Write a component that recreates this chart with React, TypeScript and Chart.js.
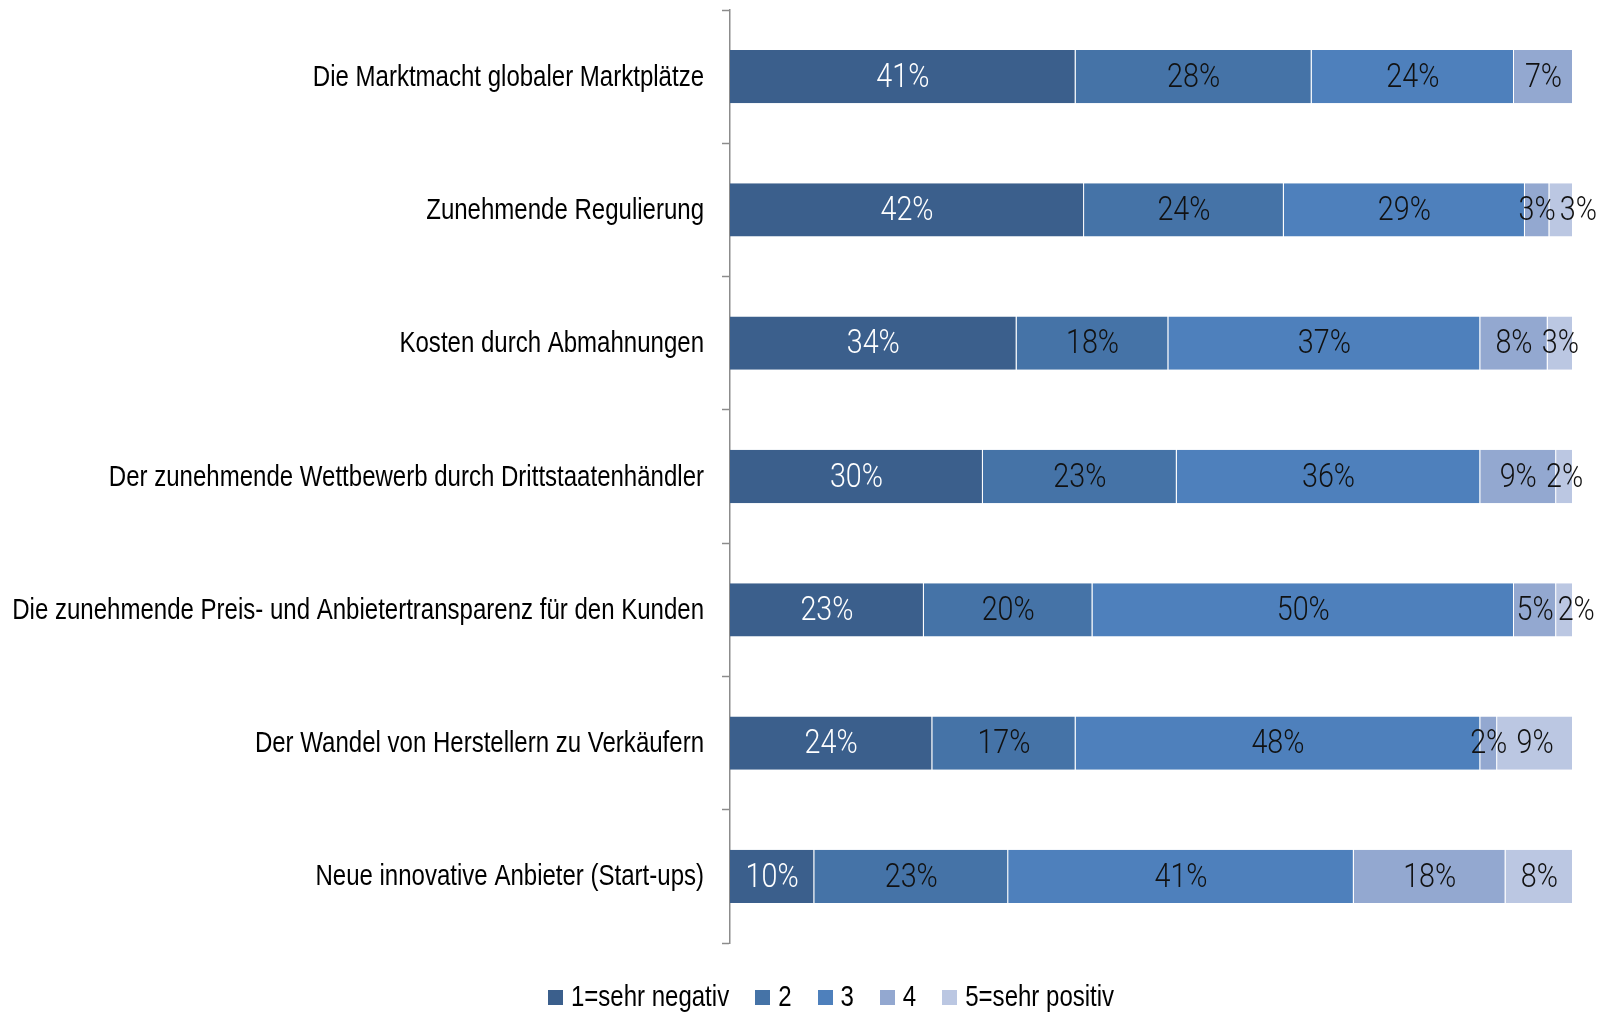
import React, { useEffect, useRef } from "react";
import { Chart, registerables } from "chart.js";

Chart.register(...registerables);

const SANS = "'Liberation Sans', Arial, sans-serif";
const LIGHT = "Roboto, 'Liberation Sans', sans-serif";

const categories = [
  "Die Marktmacht globaler Marktplätze",
  "Zunehmende Regulierung",
  "Kosten durch Abmahnungen",
  "Der zunehmende Wettbewerb durch Drittstaatenhändler",
  "Die zunehmende Preis- und Anbietertransparenz für den Kunden",
  "Der Wandel von Herstellern zu Verkäufern",
  "Neue innovative Anbieter (Start-ups)",
];

const seriesNames = ["1=sehr negativ", "2", "3", "4", "5=sehr positiv"];

const s1 = [41, 42, 34, 30, 23, 24, 10];
const s2 = [28, 23.7, 18, 23, 20, 17, 23];
const s3 = [24, 28.6, 37, 36, 50, 48, 41];
const s4 = [7, 2.9, 8, 9, 5, 2, 18];
const s5 = [0, 2.8, 3, 2, 2, 9, 8];

const seriesColors = ["#3B5F8C", "#4573A7", "#4E80BC", "#93A8D0", "#BBC7E2"];
const labelColors = ["#FFFFFF", "#111111", "#111111", "#111111", "#111111"];

// draw horizontally compressed text (narrow face emulation)
function narrowText(
  ctx: CanvasRenderingContext2D,
  text: string,
  x: number,
  y: number,
  align: "left" | "right" | "center",
  font: string,
  sx: number,
  color: string
) {
  ctx.save();
  ctx.font = font;
  ctx.textBaseline = "middle";
  ctx.textAlign = "left";
  ctx.fillStyle = color;
  const w = ctx.measureText(text).width * sx;
  const left = align === "left" ? x : align === "right" ? x - w : x - w / 2;
  ctx.translate(left, y);
  ctx.scale(sx, 1);
  ctx.fillText(text, 0, 0);
  ctx.restore();
  return w;
}

function narrowWidth(ctx: CanvasRenderingContext2D, text: string, font: string, sx: number) {
  ctx.save();
  ctx.font = font;
  const w = ctx.measureText(text).width * sx;
  ctx.restore();
  return w;
}

const CAT_FONT = `29.3px ${SANS}`;
const CAT_SX = 0.82;
const VAL_FONT = `300 33px ${LIGHT}`;
const VAL_SX = 0.87;

const textPlugin = {
  id: "narrowTexts",
  afterDatasetsDraw(chart: any) {
    const ctx: CanvasRenderingContext2D = chart.ctx;
    const n = chart.data.labels.length;
    for (let i = 0; i < n; i++) {
      let prevEnd = -Infinity;
      chart.data.datasets.forEach((ds: any, d: number) => {
        const meta = chart.getDatasetMeta(d);
        if (meta.hidden) return;
        const r = Math.round(ds.data[i]);
        if (!r) return;
        const el = meta.data[i];
        const cx = (el.x + el.base) / 2;
        const text = r + "%";
        const w = narrowWidth(ctx, text, VAL_FONT, VAL_SX);
        let x = cx - w / 2;
        if (x < prevEnd + 4) x = prevEnd + 4;
        narrowText(ctx, text, x, el.y + 2, "left", VAL_FONT, VAL_SX, labelColors[d]);
        prevEnd = x + w;
      });
    }
  },
  afterDraw(chart: any) {
    const ctx: CanvasRenderingContext2D = chart.ctx;
    const yScale = chart.scales.y;
    const right = chart.chartArea.left - 26;
    chart.data.labels.forEach((lab: string, i: number) => {
      const y = yScale.getPixelForValue(i);
      narrowText(ctx, lab, right, y + 1, "right", CAT_FONT, CAT_SX, "#000000");
    });
    // legend
    const items = chart.data.datasets.map((ds: any) => ({
      text: ds.label,
      color: ds.backgroundColor,
      w: narrowWidth(ctx, ds.label, CAT_FONT, CAT_SX),
    }));
    const box = 15;
    const gapText = 8;
    const gapItem = 26;
    const total =
      items.reduce((s: number, it: any) => s + box + gapText + it.w, 0) + gapItem * (items.length - 1);
    const centerX = 831;
    const yC = 997;
    let x = centerX - total / 2;
    items.forEach((it: any) => {
      ctx.save();
      ctx.fillStyle = it.color;
      ctx.fillRect(Math.round(x), Math.round(yC - box / 2), box, box);
      ctx.restore();
      narrowText(ctx, it.text, x + box + gapText, yC + 1, "left", CAT_FONT, CAT_SX, "#000000");
      x += box + gapText + it.w + gapItem;
    });
  },
};

export default function App() {
  const ref = useRef<HTMLCanvasElement>(null);

  useEffect(() => {
    if (!ref.current) return;
    const all = [s1, s2, s3, s4, s5];
    const chart = new Chart(ref.current, {
      type: "bar",
      data: {
        labels: categories,
        datasets: all.map((d, i) => ({
          label: seriesNames[i],
          data: d,
          backgroundColor: seriesColors[i],
          borderColor: "rgba(255,255,255,0.3)",
          borderWidth: { top: 0, bottom: 0, left: 0, right: 1 },
          borderSkipped: false,
          barPercentage: 0.4,
          categoryPercentage: 1,
        })),
      },
      options: {
        indexAxis: "y",
        responsive: false,
        animation: false,
        devicePixelRatio: 1,
        layout: { padding: { left: 0, right: 29, top: 10, bottom: 71 } },
        scales: {
          x: {
            stacked: true,
            min: 0,
            max: 100,
            display: false,
          },
          y: {
            stacked: true,
            afterFit: (scale: any) => {
              scale.width = 730;
              scale.paddingTop = 0;
              scale.paddingBottom = 0;
            },
            border: { display: true, color: "#8c8c8c", width: 1.5 },
            grid: {
              display: true,
              drawOnChartArea: false,
              drawTicks: true,
              tickLength: 8,
              tickColor: "#8c8c8c",
              tickWidth: 1.5,
              offset: true,
            },
            ticks: { display: false },
          },
        },
        plugins: {
          tooltip: { enabled: false },
          legend: { display: false },
        },
      },
      plugins: [textPlugin],
    });
    return () => chart.destroy();
  }, []);

  return (
    <div
      style={{
        position: "fixed",
        left: 0,
        top: 0,
        width: 1602,
        height: 1014,
        overflow: "hidden",
        background: "#ffffff",
      }}
    >
      <canvas ref={ref} width={1602} height={1014} style={{ display: "block" }} />
    </div>
  );
}
